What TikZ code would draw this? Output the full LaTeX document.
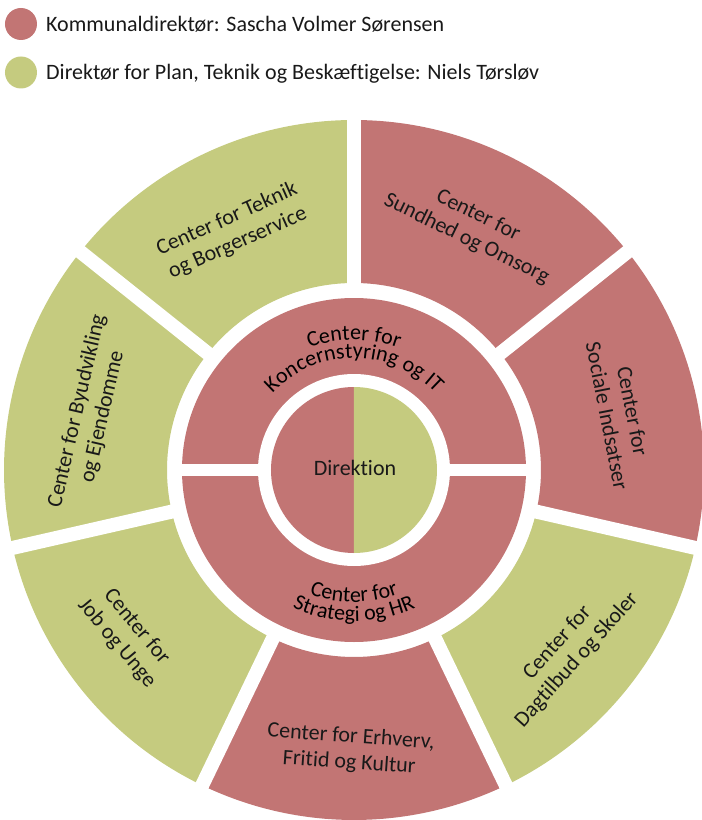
\documentclass[tikz,border=0pt]{standalone}
\usepackage{fontspec}
\setmainfont{Carlito}[Ligatures=CommonOff]
\usetikzlibrary{decorations.text}
\definecolor{kdred}{RGB}{194,117,116}
\definecolor{ptgreen}{RGB}{197,203,127}
\newcommand{\ringfont}{\fontsize{22}{26}\selectfont}
\tikzset{
	felt/.style={font=\ringfont,align=center,text=black!90,inner sep=0pt},
	legende/.style={font=\ringfont,text=black!90,inner sep=0pt,anchor=base west},
	rundtekst/.style={decorate,decoration={text along path,text align=center,text={|\ringfont|#1}}},
	skille/.style={white,line width=14pt},
}
\begin{document}
\begin{tikzpicture}[x=1pt,y=1pt]
	\useasboundingbox (-354,-350) rectangle (348,470);
	% forklaring
	\fill[kdred] (-333,446) circle[radius=16];
	\fill[ptgreen] (-333,397.5) circle[radius=16];
	\node[legende] (kommunaldir) at (-308,438.3) {Kommunaldirektør: Sascha Volmer Sørensen};
	\node[legende] (plandir) at (-308,390) {Direktør for Plan, Teknik og Beskæftigelse: Niels Tørsløv};
	% yderste ring, syv centre
	\foreach \c [count=\i from 0] in {ptgreen,ptgreen,ptgreen,kdred,ptgreen,kdred,kdred}{
		\pgfmathsetmacro{\a}{90+\i*360/7}
		\pgfmathsetmacro{\b}{\a+360/7}
		\fill[\c] (\a:187) arc[start angle=\a,end angle=\b,radius=187] -- (\b:350) arc[start angle=\b,end angle=\a,radius=350] -- cycle;
	}
	\foreach \i in {0,...,6}
		\draw[skille] ({90+\i*360/7}:180) -- ({90+\i*360/7}:356);
	% mellemste ring
	\fill[kdred] (0,0) circle[radius=172];
	\fill[white] (0,0) circle[radius=96];
	\draw[white,line width=12pt] (-176,0) -- (176,0);
	% direktion
	\fill[kdred] (0,83) arc[start angle=90,end angle=270,radius=83] -- cycle;
	\fill[ptgreen] (0,-83) arc[start angle=-90,end angle=90,radius=83] -- cycle;
	\node[felt] (direktion) at (1,2) {Direktion};
	\path[rundtekst={Center for}] (180:130) arc[start angle=180,end angle=0,radius=130];
	\path[rundtekst={Koncernstyring og IT}] (180:112) arc[start angle=180,end angle=0,radius=112];
	\path[rundtekst={Center for}] (180:132) arc[start angle=180,end angle=360,radius=132];
	\path[rundtekst={Strategi og HR}] (180:151) arc[start angle=180,end angle=360,radius=151];
	% tekster i yderste ring
	\node[felt,rotate=24] (teknik) at (117:268) {Center for Teknik\\og Borgerservice};
	\node[felt,rotate=77] (byudvikling) at (168:270) {Center for Byudvikling\\og Ejendomme};
	\node[felt,rotate=-50] (job) at (-144:281) {Center for\\Job og Unge};
	\node[felt,rotate=-4] (erhverv) at (-90.8:280) {Center for Erhverv,\\Fritid og Kultur};
	\node[felt,rotate=48] (dagtilbud) at (-40.4:280) {Center for\\Dagtilbud og Skoler};
	\node[felt,rotate=-79] (sociale) at (12:272) {Center for\\Sociale Indsatser};
	\node[felt,rotate=-26] (sundhed) at (64:270) {Center for\\Sundhed og Omsorg};
\end{tikzpicture}
\end{document}
